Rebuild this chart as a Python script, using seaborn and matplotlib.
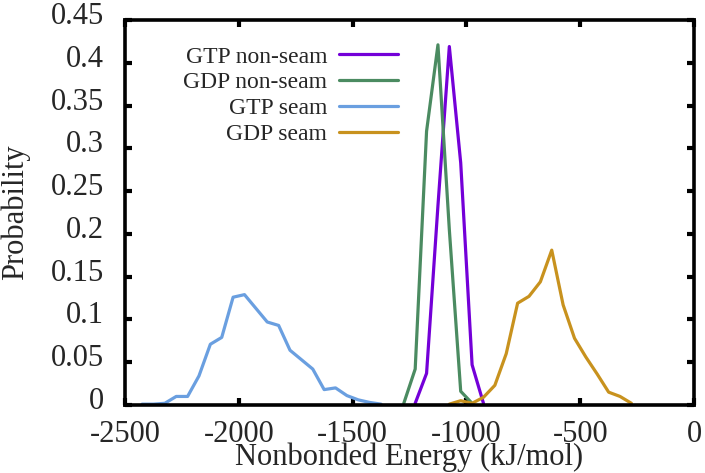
import matplotlib
matplotlib.use("Agg")
import matplotlib.pyplot as plt
import matplotlib.transforms as mtransforms
from matplotlib.ticker import FuncFormatter, MultipleLocator
import numpy as np
import pandas as pd
import seaborn as sns

# Data (bin centres, kJ/mol)
gtp_nonseam_x = [-1225, -1175, -1125, -1075, -1025, -975, -925]
gtp_nonseam_p = [0.002, 0.037, 0.233, 0.419, 0.283, 0.047, 0.002]

gdp_nonseam_x = [-1275, -1225, -1175, -1125, -1075, -1025, -975]
gdp_nonseam_p = [0.002, 0.042, 0.320, 0.421, 0.205, 0.016, 0.002]

gtp_seam_x = [-2425, -2375, -2325, -2275, -2225, -2175, -2125, -2075, -2025, -1975, -1925,
              -1875, -1825, -1775, -1725, -1675, -1625, -1575, -1525, -1475, -1425, -1375]
gtp_seam_p = [0.001, 0.001, 0.002, 0.010, 0.010, 0.034, 0.071, 0.079, 0.126, 0.129, 0.113,
              0.097, 0.093, 0.064, 0.053, 0.042, 0.018, 0.020, 0.011, 0.006, 0.003, 0.001]

gdp_seam_x = [-1075, -1025, -975, -925, -875, -825, -775, -725, -675, -625, -575,
              -525, -475, -425, -375, -325, -275]
gdp_seam_p = [0.001, 0.005, 0.002, 0.009, 0.023, 0.060, 0.119, 0.127, 0.144, 0.181, 0.117,
              0.078, 0.056, 0.036, 0.015, 0.010, 0.002]

series_names = ['GTP non-seam', 'GDP non-seam', 'GTP seam', 'GDP seam']
series_colors = ['#7400d8', '#4b8b61', '#6a9fe0', '#c8921e']

frames = []
for name, xs, ps in zip(series_names,
                        [gtp_nonseam_x, gdp_nonseam_x, gtp_seam_x, gdp_seam_x],
                        [gtp_nonseam_p, gdp_nonseam_p, gtp_seam_p, gdp_seam_p]):
    frames.append(pd.DataFrame({'energy': xs, 'prob': ps, 'series': name}))
df = pd.concat(frames, ignore_index=True)

sns.set_style("ticks")
plt.rcParams['font.family'] = ['Liberation Serif', 'DejaVu Serif']
plt.rcParams['axes.unicode_minus'] = False

fig = plt.figure(figsize=(7.05, 4.73), dpi=100)
ax = fig.add_axes([125 / 705, 1 - 405 / 473, 569 / 705, 385 / 473])

sns.lineplot(data=df, x='energy', y='prob', hue='series', hue_order=series_names,
             palette=series_colors, linewidth=2.3, sort=False, estimator=None, ax=ax)

ax.set_xlim(-2500, 0)
ax.set_ylim(0, 0.45)
ax.xaxis.set_major_locator(MultipleLocator(500))
ax.yaxis.set_major_locator(MultipleLocator(0.05))
fmt = FuncFormatter(lambda v, pos: '%g' % round(v, 6))
ax.xaxis.set_major_formatter(fmt)
ax.yaxis.set_major_formatter(fmt)

for side in ['left', 'right', 'top', 'bottom']:
    ax.spines[side].set_visible(True)
    ax.spines[side].set_linewidth(2.6)
    ax.spines[side].set_color('black')

ax.tick_params(axis='both', which='major', direction='in', length=5, width=3,
               top=True, right=True, labelsize=22, color='black')
ax.tick_params(axis='x', pad=11)
ax.tick_params(axis='y', pad=15)

# gnuplot-style y labels sit slightly above their ticks
shift = mtransforms.ScaledTranslation(0, 7 / 100, fig.dpi_scale_trans)
for lab in ax.get_yticklabels():
    lab.set_transform(lab.get_transform() + shift)

ax.set_xlabel('Nonbonded Energy (kJ/mol)', fontsize=22, labelpad=-5)
ax.set_ylabel('Probability', fontsize=22, labelpad=15)

leg = ax.legend(loc='upper right', bbox_to_anchor=(0.48, 0.932), frameon=False,
                markerfirst=False, fontsize=17, handlelength=2.5, handletextpad=0.5,
                labelspacing=0.18, borderpad=0, borderaxespad=0)
for line in leg.get_lines():
    line.set_linewidth(2.3)

fig.savefig('out.png', dpi=100)
